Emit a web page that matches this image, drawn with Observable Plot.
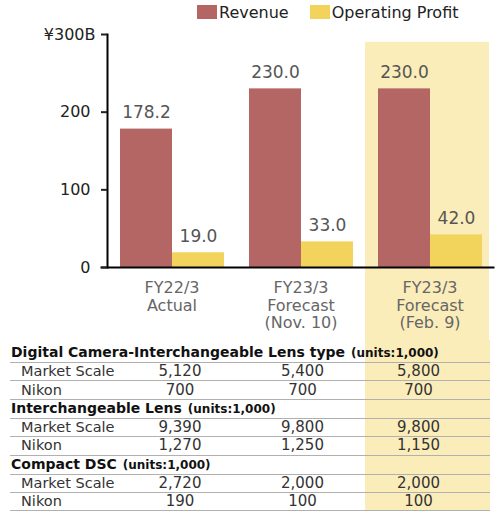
<!DOCTYPE html>
<html>
<head>
<meta charset="utf-8">
<script src="https://cdn.jsdelivr.net/npm/d3@7"></script>
<script src="https://cdn.jsdelivr.net/npm/@observablehq/plot@0.6"></script>
<style>
  html, body { margin: 0; padding: 0; background: #fff; }
  body { width: 500px; height: 516px; overflow: hidden; font-family: "DejaVu Sans", sans-serif; color: #222; }
  #legend { height: 24px; display: flex; align-items: center; padding-left: 197px; font-size: 16px; color: #222; }
  .item { display: flex; align-items: center; margin-right: 21px; }
  .sw { width: 20px; height: 14px; margin-right: 2px; }
  #chart svg { display: block; overflow: visible; }
  #tablewrap { position: relative; margin-top: 4px; }
  #hl { position: absolute; left: 365px; width: 125px; top: -4px; height: 170px; z-index: 0; }
  table { position: relative; z-index: 1; border-collapse: collapse; table-layout: fixed; margin-left: 10px; width: 480px; font-size: 14px; }
  td { padding: 0; height: 17.4px; line-height: 17px; border-bottom: 1px solid #b0b0b0; white-space: nowrap; overflow: visible; }
  td.head { font-weight: bold; padding-left: 1px; color: #111; }
  td.head span { font-size: 12px; margin-left: 6px; }
  td.lab { padding-left: 11px; color: #333; font-size: 14.5px; }
  td.v { text-align: center; color: #333; font-size: 15px; }
  td.v3 { padding-right: 18px; }
</style>
</head>
<body>
<div id="legend"></div>
<div id="chart"></div>
<div id="tablewrap"><div id="hl"></div><table id="tbl"></table></div>
<script>
// ---- data ----
const groups = ["FY22/3 Actual", "FY23/3 Forecast (Nov. 10)", "FY23/3 Forecast (Feb. 9)"];
const groupLabels = ["FY22/3\nActual", "FY23/3\nForecast\n(Nov. 10)", "FY23/3\nForecast\n(Feb. 9)"];
const seriesNames = ["Revenue", "Operating Profit"];
const seriesColors = ["#b36664", "#f2d45c"];
const revenue = [178.2, 230.0, 230.0];
const operatingProfit = [19.0, 33.0, 42.0];
const yTicks = [0, 100, 200];
const yTopTick = [300];
const highlightGroup = "FY23/3 Forecast (Feb. 9)";
const highlightTop = 290;
const highlightColor = "#fbedba";

const sections = ["Digital Camera-Interchangeable Lens type", "Interchangeable Lens", "Compact DSC"];
const unitsNote = "(units:1,000)";
const rowLabels = ["Market Scale", "Nikon"];
const marketScale = [[5120, 5400, 5800], [9390, 9800, 9800], [2720, 2000, 2000]];
const nikonUnits = [[700, 700, 700], [1270, 1250, 1150], [190, 100, 100]];

// ---- legend ----
const legend = document.getElementById("legend");
seriesNames.forEach((s, i) => {
  const it = document.createElement("div");
  it.className = "item";
  it.innerHTML = `<div class="sw" style="background:${seriesColors[i]}"></div><span>${s}</span>`;
  legend.appendChild(it);
});

// ---- chart ----
const rows = [];
groups.forEach((g, i) => {
  rows.push({group: g, series: seriesNames[0], value: revenue[i]});
  rows.push({group: g, series: seriesNames[1], value: operatingProfit[i]});
});
const labelOf = new Map(groups.map((g, i) => [g, groupLabels[i]]));

const H = 316, MB = 73;
const plot = Plot.plot({
  width: 500,
  height: H,
  marginLeft: 106,
  marginRight: 5,
  marginTop: 10,
  marginBottom: MB,
  style: {fontFamily: "DejaVu Sans, sans-serif", background: "transparent", color: "#222", overflow: "visible"},
  fx: {domain: groups, padding: 0, label: null},
  x: {domain: seriesNames, paddingInner: 0, paddingOuter: 0.22, axis: null},
  y: {domain: [0, 300], label: null},
  color: {domain: seriesNames, range: seriesColors},
  marks: [
    Plot.rect([{group: highlightGroup, top: highlightTop}], {fx: "group", y1: 0, y2: "top", fill: highlightColor, insetBottom: -MB, insetRight: 5}),
    Plot.barY(rows, {fx: "group", x: "series", y: "value", fill: "series"}),
    Plot.text(rows, {fx: "group", x: "series", y: "value", text: d => d.value.toFixed(1), dy: -11, lineAnchor: "bottom", fontSize: 17, fill: "#555"}),
    Plot.frame({anchor: "bottom", facet: "super", stroke: "#000", strokeWidth: 2, insetLeft: -6, insetRight: 1}),
    Plot.frame({anchor: "left", facet: "super", stroke: "#000", strokeWidth: 2}),
    Plot.axisY({ticks: yTicks, tickSize: 6, tickPadding: 11, fontSize: 16, label: null, strokeWidth: 2}),
    Plot.axisY({ticks: yTopTick, tickFormat: d => `¥${d}B`, tickSize: 6, tickPadding: 6, fontSize: 16, label: null, strokeWidth: 2}),
    Plot.axisFx({anchor: "bottom", tickSize: 0, tickPadding: 13, tickFormat: g => labelOf.get(g), fontSize: 16, fill: "#666", lineHeight: 1.1, label: null})
  ]
});
document.getElementById("chart").appendChild(plot);

// ---- table ----
const fmt = d3.format(",");
const tbl = document.getElementById("tbl");
tbl.innerHTML = `<colgroup><col style="width:110px"><col style="width:120px"><col style="width:125px"><col style="width:125px"></colgroup>`;
sections.forEach((sec, i) => {
  const h = document.createElement("tr");
  h.innerHTML = `<td class="head" colspan="4">${sec}<span>${unitsNote}</span></td>`;
  tbl.appendChild(h);
  [marketScale, nikonUnits].forEach((arr, r) => {
    const tr = document.createElement("tr");
    tr.innerHTML = `<td class="lab">${rowLabels[r]}</td>` +
      arr[i].map((v, k) => `<td class="v${k === 2 ? " v3" : ""}">${fmt(v)}</td>`).join("");
    tbl.appendChild(tr);
  });
});
document.getElementById("hl").style.background = highlightColor;
</script>
</body>
</html>
